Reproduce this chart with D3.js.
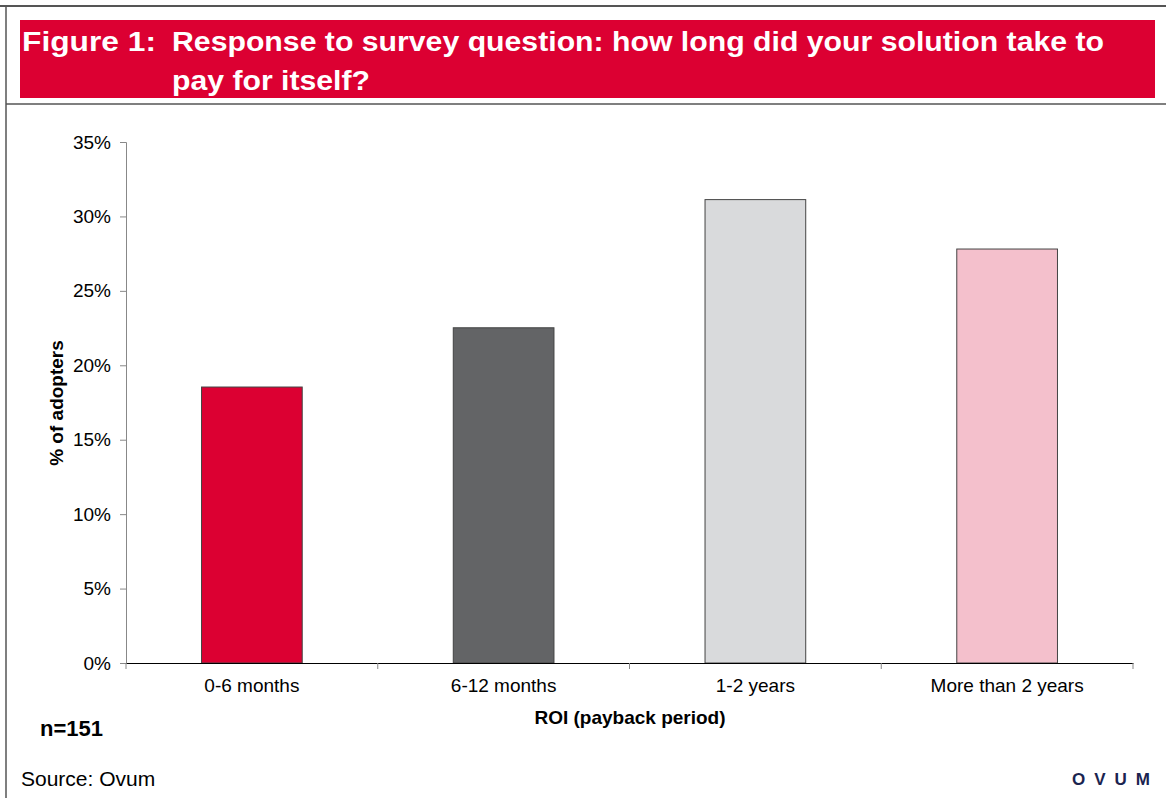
<!DOCTYPE html>
<html><head><meta charset="utf-8">
<script src="https://cdnjs.cloudflare.com/ajax/libs/d3/7.8.5/d3.min.js"></script>
<style>html,body{margin:0;padding:0;background:#fff;}svg{display:block;}</style>
</head><body>
<script>
const categories = ["0-6 months", "6-12 months", "1-2 years", "More than 2 years"];
const values = [18.54, 22.52, 31.13, 27.81];
const colors = ["#DC0032", "#636466", "#D9DADC", "#F4C0CC"];
const yTicks = [0, 5, 10, 15, 20, 25, 30, 35];
const titleLine1 = "Response to survey question: how long did your solution take to";
const titleLine2 = "pay for itself?";

const W = 1166, H = 798;
const svg = d3.select("body").append("svg").attr("width", W).attr("height", H);
const font = "'Liberation Sans', Arial, sans-serif";

// frame
svg.append("line").attr("x1", 0).attr("x2", W).attr("y1", 6).attr("y2", 6).attr("stroke", "#555").attr("stroke-width", 2);
svg.append("line").attr("x1", 6).attr("x2", 6).attr("y1", 6).attr("y2", H).attr("stroke", "#555").attr("stroke-width", 1.5);
svg.append("line").attr("x1", 6).attr("x2", W).attr("y1", 104).attr("y2", 104).attr("stroke", "#555").attr("stroke-width", 1.5);

// title band
svg.append("rect").attr("x", 20).attr("y", 20).attr("width", 1135).attr("height", 78).attr("fill", "#DC0032");
const tt = svg.append("g").attr("fill", "#fff").attr("font-family", font).attr("font-weight", "bold").attr("font-size", 27);
tt.append("text").attr("x", 22).attr("y", 51).text("Figure 1:").attr("textLength", 134).attr("lengthAdjust", "spacingAndGlyphs");
tt.append("text").attr("x", 172).attr("y", 51).text(titleLine1).attr("textLength", 932).attr("lengthAdjust", "spacingAndGlyphs");
tt.append("text").attr("x", 172).attr("y", 90).text(titleLine2).attr("textLength", 198).attr("lengthAdjust", "spacingAndGlyphs");

// plot
const x0 = 126, x1 = 1133, yTop = 142, yBot = 663;
const x = d3.scaleBand().domain(categories).range([x0, x1]).paddingInner(0.6).paddingOuter(0.3);
const y = d3.scaleLinear().domain([0, 35]).range([yBot, yTop]);

svg.selectAll("rect.bar").data(values).join("rect").attr("class", "bar")
  .attr("x", (d, i) => x(categories[i]))
  .attr("y", d => y(d))
  .attr("width", x.bandwidth())
  .attr("height", d => yBot - y(d))
  .attr("fill", (d, i) => colors[i])
  .attr("stroke", "#444").attr("stroke-width", 1);

// y axis
const yAxis = svg.append("g").attr("transform", `translate(${x0},0)`)
  .call(d3.axisLeft(y).tickValues(yTicks).tickFormat(d => d + "%").tickSize(6).tickPadding(9));
yAxis.select(".domain").attr("stroke", "#888");
yAxis.selectAll(".tick line").attr("stroke", "#888");
yAxis.selectAll("text").attr("font-family", font).attr("font-size", 19).attr("fill", "#000");

// x axis
const xAxis = svg.append("g").attr("transform", `translate(0,${yBot})`)
  .call(d3.axisBottom(x).tickSize(0).tickPadding(16));
xAxis.select(".domain").attr("stroke", "#000");
xAxis.selectAll("text").attr("font-family", font).attr("font-size", 19).attr("fill", "#000");
// category boundary ticks
const step = x.step();
const bounds = d3.range(categories.length + 1).map(i => x(categories[0]) - step * 0.3 + i * step);
svg.append("g").selectAll("line").data(bounds).join("line")
  .attr("x1", d => d).attr("x2", d => d).attr("y1", yBot).attr("y2", yBot + 6)
  .attr("stroke", "#888");

// axis titles
svg.append("text").attr("transform", `translate(63,403) rotate(-90)`).attr("text-anchor", "middle")
  .attr("font-family", font).attr("font-weight", "bold").attr("font-size", 19).text("% of adopters");
svg.append("text").attr("x", 630).attr("y", 724).attr("text-anchor", "middle")
  .attr("font-family", font).attr("font-weight", "bold").attr("font-size", 19).text("ROI (payback period)");

// footnotes
svg.append("text").attr("x", 40).attr("y", 736).attr("font-family", font).attr("font-weight", "bold").attr("font-size", 22).text("n=151");
svg.append("text").attr("x", 21).attr("y", 786).attr("font-family", font).attr("font-size", 21).text("Source: Ovum");
svg.append("text").attr("x", 1072).attr("y", 785).attr("font-family", font).attr("font-weight", "900").attr("font-size", 17)
  .attr("fill", "#1B2450").attr("letter-spacing", 9).text("OVUM");
</script>
</body></html>
